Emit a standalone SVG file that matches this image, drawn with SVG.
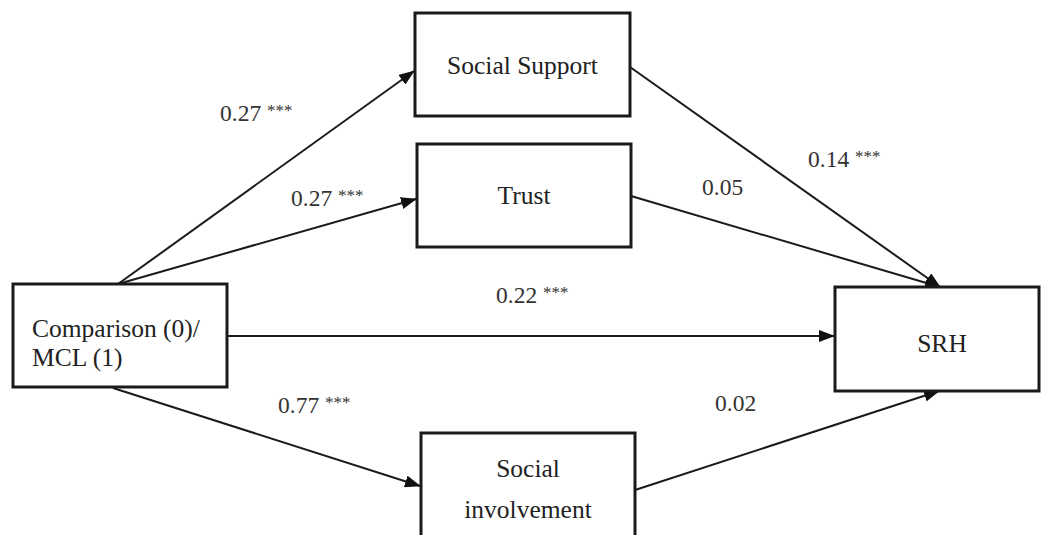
<svg xmlns="http://www.w3.org/2000/svg" width="1041" height="535" viewBox="0 0 1041 535">
<style>
.box{fill:#fff;stroke:#1a1a1a;stroke-width:3}
.lbl{font-family:"Liberation Serif","Times New Roman",serif;font-size:25.5px;fill:#222}
.num{font-family:"Liberation Serif","Times New Roman",serif;font-size:23.5px;fill:#333}
.ast{font-size:17px}
.edge{stroke:#1a1a1a;stroke-width:2;fill:none;marker-end:url(#ah)}
</style>
<defs>
<marker id="ah" markerWidth="16" markerHeight="12" refX="15" refY="6" orient="auto" markerUnits="userSpaceOnUse">
<path d="M0,0 L16,6 L0,12 Z" fill="#111"/>
</marker>
</defs>
<rect width="1041" height="535" fill="#fff"/>
<g id="connectors">
<line class="edge" x1="118" y1="284" x2="414" y2="71"/>
<line class="edge" x1="118" y1="284" x2="416" y2="199"/>
<line class="edge" x1="227" y1="336" x2="834" y2="336"/>
<line class="edge" x1="113" y1="388" x2="420" y2="486"/>
<line class="edge" x1="630" y1="67" x2="940" y2="287"/>
<line class="edge" x1="631" y1="196" x2="940" y2="287"/>
<line class="edge" x1="635" y1="490" x2="939" y2="391"/>
</g>
<g id="labels">
<text class="num" x="220" y="121">0.27 <tspan class="ast" dy="-5">***</tspan></text>
<text class="num" x="291" y="206">0.27 <tspan class="ast" dy="-5">***</tspan></text>
<text class="num" x="702" y="195">0.05</text>
<text class="num" x="808" y="167">0.14 <tspan class="ast" dy="-5">***</tspan></text>
<text class="num" x="496" y="303">0.22 <tspan class="ast" dy="-5">***</tspan></text>
<text class="num" x="278" y="413">0.77 <tspan class="ast" dy="-5">***</tspan></text>
<text class="num" x="715" y="411">0.02</text>
</g>
<g id="comparison">
<rect class="box" x="13" y="284" width="214" height="103"/>
<text class="lbl" x="32" y="337">Comparison (0)/</text>
<text class="lbl" x="32" y="366">MCL (1)</text>
</g>
<g id="social-support">
<rect class="box" x="415" y="13" width="215" height="103"/>
<text class="lbl" x="522.5" y="74" text-anchor="middle">Social Support</text>
</g>
<g id="trust">
<rect class="box" x="417" y="144" width="214" height="103"/>
<text class="lbl" x="524" y="204" text-anchor="middle">Trust</text>
</g>
<g id="srh">
<rect class="box" x="835" y="287" width="204" height="104"/>
<text class="lbl" x="942" y="352" text-anchor="middle">SRH</text>
</g>
<g id="social-involvement">
<rect class="box" x="421" y="433" width="214" height="110"/>
<text class="lbl" x="528" y="477" text-anchor="middle">Social</text>
<text class="lbl" x="528" y="518" text-anchor="middle">involvement</text>
</g>
</svg>
